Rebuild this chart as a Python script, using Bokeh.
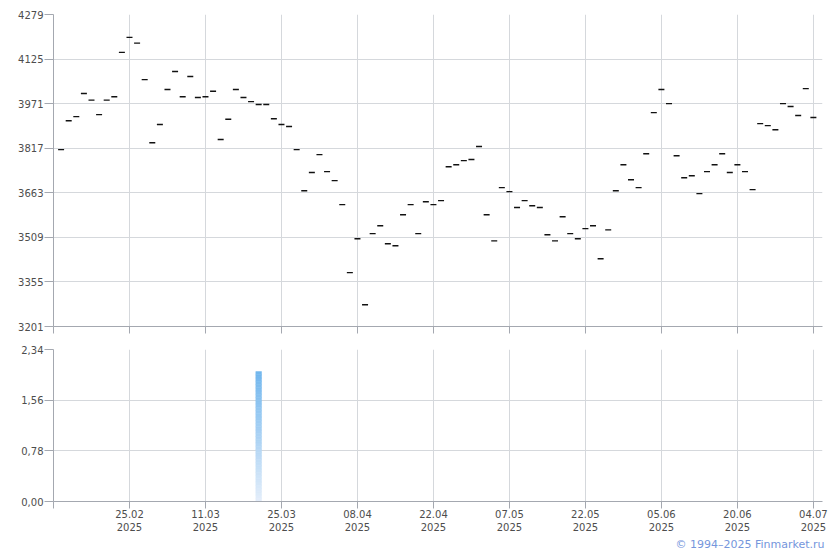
from bokeh.plotting import figure
from bokeh.models import Range1d, FixedTicker, Title, ColumnDataSource
from bokeh.layouts import column
from bokeh.embed import file_html
from bokeh.resources import INLINE

# ---------------- data ----------------
# trading-day closes (index 1..100)
close = [
    3812, 3912, 3926, 4006, 3983, 3933, 3983, 3995, 4148, 4200,
    4180, 4054, 3836, 3899, 4020, 4082, 3995, 4065, 3992, 3995,
    4014, 3847, 3917, 4020, 3992, 3978, 3968, 3968, 3919, 3899,
    3892, 3812, 3670, 3733, 3795, 3736, 3705, 3622, 3387, 3504,
    3276, 3522, 3549, 3487, 3480, 3587, 3622, 3522, 3632, 3622,
    3636, 3753, 3760, 3774, 3778, 3823, 3587, 3497, 3681, 3667,
    3612, 3636, 3618, 3612, 3518, 3497, 3580, 3522, 3504, 3539,
    3549, 3435, 3535, 3670, 3760, 3708, 3681, 3798, 3940, 4020,
    3971, 3791, 3715, 3722, 3660, 3736, 3760, 3798, 3733, 3760,
    3736, 3674, 3902, 3895, 3881, 3971, 3961, 3930, 4023, 3923,
]
day_index = list(range(1, len(close) + 1))

tick_index = [10, 20, 30, 40, 50, 60, 70, 80, 90, 100]
tick_dates = ["25.02", "11.03", "25.03", "08.04", "22.04",
              "07.05", "22.05", "05.06", "20.06", "04.07"]
tick_year = ["2025"] * 10

price_ticks = [3201, 3355, 3509, 3663, 3817, 3971, 4125, 4279]
bar_ticks = [0.0, 0.78, 1.56, 2.34]

bar_index = [27]
bar_value = [2.0]

copyright_text = "\u00a9 1994\u20132025 Finmarket.ru"

# ---------------- style ----------------
FONT = "DejaVu Sans"
LABEL_COLOR = "#4d4d4d"
AXIS_COLOR = "#a4a8b0"
GRID_COLOR = "#d5d8dc"
X_END = 101.2


def style(p, yticks, ylabels):
    p.outline_line_color = None
    p.background_fill_color = "white"
    p.border_fill_color = "white"
    for ax in (p.xaxis, p.yaxis):
        ax.axis_line_color = AXIS_COLOR
        ax.major_tick_line_color = AXIS_COLOR
        ax.minor_tick_line_color = None
        ax.major_tick_in = 0
        ax.major_label_text_font = FONT
        ax.major_label_text_font_size = "10px"
        ax.major_label_text_color = LABEL_COLOR
    p.yaxis.ticker = FixedTicker(ticks=yticks)
    p.yaxis.major_label_overrides = dict(zip(yticks, ylabels))
    p.yaxis.major_tick_out = 9
    p.yaxis.major_label_standoff = 1
    p.xaxis.ticker = FixedTicker(ticks=[0] + tick_index)
    p.xaxis.major_tick_out = 7
    p.xgrid.ticker = FixedTicker(ticks=tick_index)
    p.ygrid.ticker = FixedTicker(ticks=yticks)
    p.xgrid.grid_line_color = GRID_COLOR
    p.ygrid.grid_line_color = GRID_COLOR


# ---------------- top: prices ----------------
top = figure(width=832, height=340,
             x_range=Range1d(0, X_END),
             y_range=Range1d(price_ticks[0], price_ticks[-1]),
             output_backend="svg", toolbar_location=None,
             min_border_left=53, min_border_right=10,
             min_border_top=14, min_border_bottom=14)
style(top, price_ticks, [str(v) for v in price_ticks])
top.xaxis.major_label_overrides = {t: "" for t in [0] + tick_index}
top.xaxis.major_label_standoff = 0
top.xaxis.major_label_text_font_size = "1px"

src = ColumnDataSource(dict(x=day_index, y=close))
top.scatter("x", "y", source=src, marker="dash", size=6,
            line_color="#111111", line_width=1.4)

# ---------------- bottom: bars ----------------
bot = figure(width=832, height=210,
             x_range=top.x_range,
             y_range=Range1d(bar_ticks[0], bar_ticks[-1]),
             output_backend="svg", toolbar_location=None,
             min_border_left=53, min_border_right=10,
             min_border_top=9, min_border_bottom=47)
style(bot, bar_ticks, [f"{v:.2f}".replace(".", ",") for v in bar_ticks])
xl = {0: ""}
for t, d, yr in zip(tick_index, tick_dates, tick_year):
    xl[t] = f"{d}\n{yr}"
bot.xaxis.major_label_overrides = xl
bot.xaxis.major_label_standoff = 0

# gradient-filled bar (vertical slices)
N = 40
top_rgb = (0x72, 0xb7, 0xee)
bot_rgb = (0xe4, 0xee, 0xfa)
gl, gr, gb, gt, gc = [], [], [], [], []
for xi, v in zip(bar_index, bar_value):
    for i in range(N):
        f = (i + 0.5) / N
        c = tuple(int(round(bot_rgb[k] + (top_rgb[k] - bot_rgb[k]) * f)) for k in range(3))
        gl.append(xi - 0.375)
        gr.append(xi + 0.375)
        gb.append(v * i / N)
        gt.append(v * (i + 1) / N)
        gc.append("#%02x%02x%02x" % c)
bot.quad(left=gl, right=gr, bottom=gb, top=gt, fill_color=gc, line_color=gc, line_width=0.5)

bot.add_layout(Title(text=copyright_text, align="right", offset=-2,
                     text_font=FONT, text_font_size="11px", text_font_style="normal",
                     text_color="#7596dc", standoff=0), "below")

layout = column(top, bot)
open("out.html", "w").write(file_html(layout, INLINE))
